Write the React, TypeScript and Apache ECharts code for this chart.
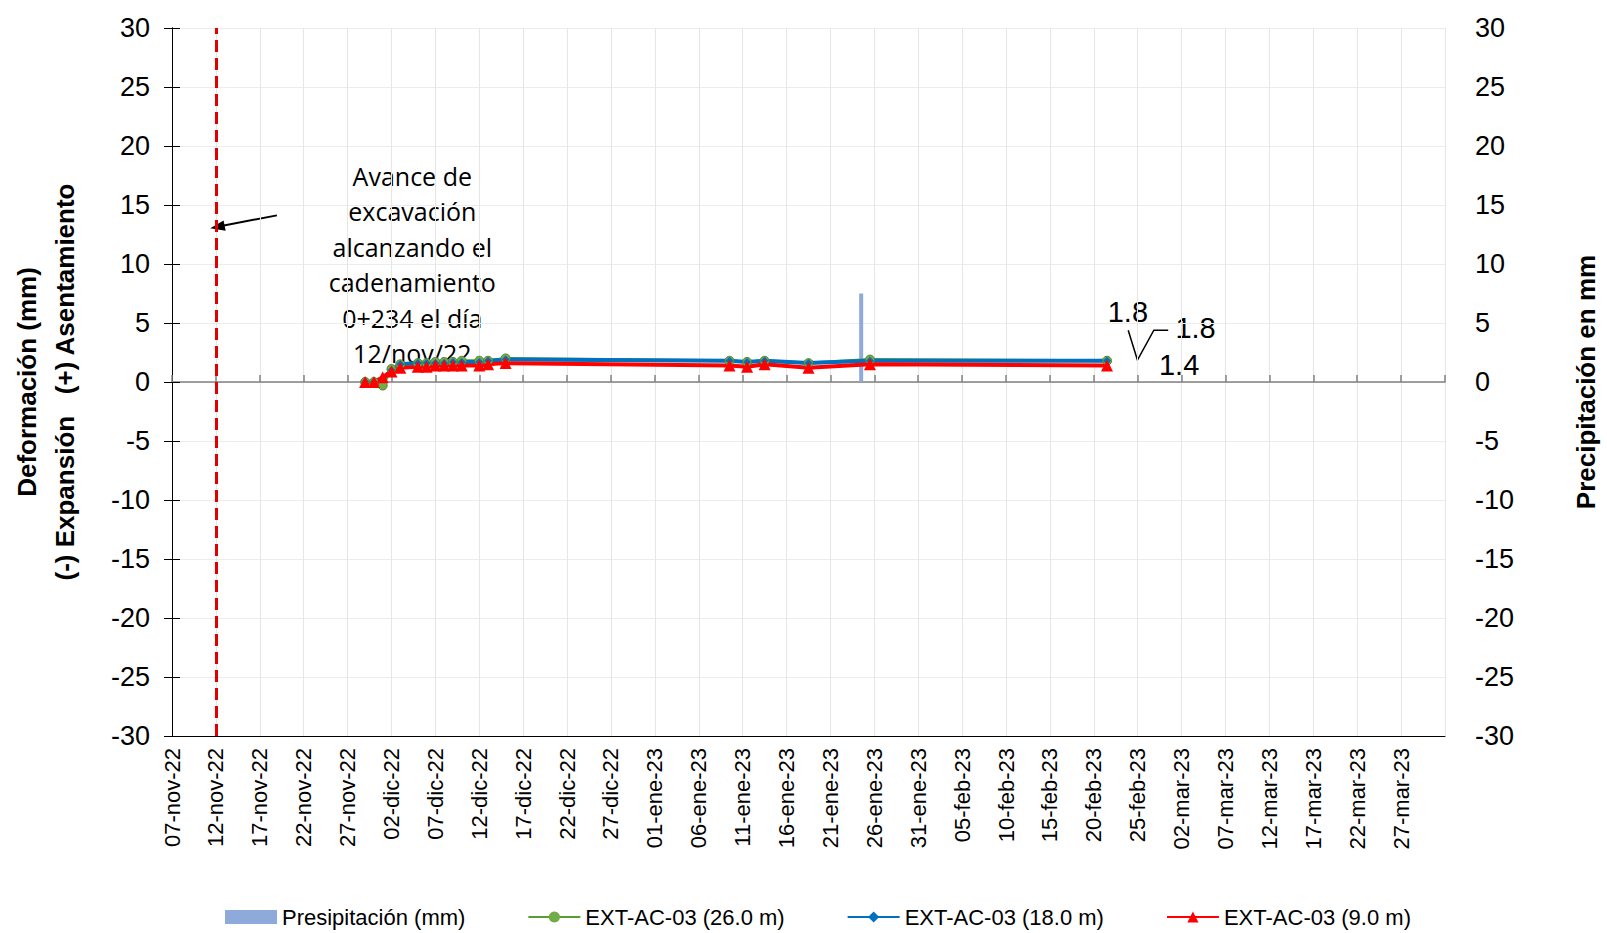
import React, { useEffect, useRef } from "react";
import * as echarts from "echarts";

const START = Date.UTC(2022, 10, 7);
const MONTHS = ["ene","feb","mar","abr","may","jun","jul","ago","sep","oct","nov","dic"];
// days since 07-nov-22
const days1 = [22, 23, 24, 25, 26, 28, 29, 30, 31, 32, 33, 35, 36, 38, 63.5, 65.5, 67.5, 72.5, 79.5, 106.5];
const green = [0, 0, -0.3, 1.1, 1.5, 1.6, 1.6, 1.7, 1.7, 1.7, 1.8, 1.8, 1.8, 2.0, 1.8, 1.7, 1.8, 1.6, 1.9, 1.8];
const blue = [0, 0, 0.3, 1.0, 1.5, 1.6, 1.6, 1.6, 1.6, 1.7, 1.7, 1.7, 1.8, 1.9, 1.8, 1.7, 1.8, 1.6, 1.8, 1.8];
const red = [0, 0, 0.4, 0.9, 1.2, 1.3, 1.3, 1.4, 1.4, 1.4, 1.4, 1.4, 1.5, 1.6, 1.4, 1.3, 1.5, 1.2, 1.5, 1.4];
const precipDays = [78.5];
const precipVals = [7.5];
const excavationDay = 5;

const FONT = "'Liberation Sans Narrow', 'Liberation Sans', Arial, sans-serif";
const K = 1 / 0.975;

function fmtDay(d: number) {
  const dt = new Date(START + d * 86400000);
  const dd = String(dt.getUTCDate()).padStart(2, "0");
  return `${dd}-${MONTHS[dt.getUTCMonth()]}-${String(dt.getUTCFullYear()).slice(2)}`;
}

export default function App() {
  const ref = useRef<HTMLDivElement>(null);
  useEffect(() => {
    document.body.style.margin = "0";
    const chart = echarts.init(ref.current!, null, { renderer: "svg" });
    const pts = (v: number[]) => days1.map((d, i) => [d, v[i]]);
    const xCommon = { type: "value", min: 0, max: 145, interval: 5 };
    const p = (x: number, y: number) => [x * K, y * K];
    chart.setOption({
      animation: false,
      backgroundColor: "#fff",
      textStyle: { fontFamily: FONT },
      grid: { left: 162, right: 120, top: 28, bottom: 197 },
      legend: {
        bottom: 0, left: 220, itemGap: 62, itemWidth: 52, itemHeight: 14,
        textStyle: { fontSize: 22, fontFamily: FONT, color: "#000" },
        data: [
          { name: "Presipitación (mm)", icon: "rect" },
          "EXT-AC-03 (26.0 m)", "EXT-AC-03 (18.0 m)", "EXT-AC-03 (9.0 m)",
        ],
      },
      xAxis: [
        {
          ...xCommon,
          axisLine: { onZero: false, lineStyle: { color: "#000" } },
          axisTick: { show: false },
          axisLabel: { rotate: 90, fontSize: 22, color: "#000", margin: 12, formatter: (v: number) => (v <= 140 ? fmtDay(v) : "") },
          splitLine: { show: true, lineStyle: { color: "#e6e6e6" } },
        },
        {
          ...xCommon,
          position: "bottom",
          axisLine: { onZero: true, lineStyle: { color: "#808080", width: 1.5 } },
          axisTick: { show: true, length: 7, inside: true, lineStyle: { color: "#808080", width: 1.5 } },
          axisLabel: { show: false },
          splitLine: { show: false },
        },
      ],
      yAxis: [
        {
          type: "value", min: -30, max: 30, interval: 5,
          axisLine: { show: true, lineStyle: { color: "#000" } },
          axisTick: { show: true, length: 8, lineStyle: { color: "#000" } },
          axisLabel: { fontSize: 27, color: "#000", margin: 22 },
          splitLine: { show: true, lineStyle: { color: "#ececec" } },
          name: "Deformación (mm)\n(-) Expansión   (+) Asentamiento",
          nameLocation: "middle", nameGap: 88, nameRotate: 90,
          nameTextStyle: { fontSize: 26, fontWeight: "bold", color: "#000", lineHeight: 38, fontFamily: "'Liberation Sans', Arial, sans-serif" },
        },
        {
          type: "value", min: -30, max: 30, interval: 5, position: "right",
          axisLine: { show: true, lineStyle: { color: "#000" } },
          axisTick: { show: true, length: 8, lineStyle: { color: "#000" } },
          axisLabel: { fontSize: 27, color: "#000", margin: 30 },
          splitLine: { show: false },
          name: "Precipitación en mm", nameLocation: "middle", nameGap: 128, nameRotate: 90,
          nameTextStyle: { fontSize: 26, fontWeight: "bold", color: "#000", fontFamily: "'Liberation Sans', Arial, sans-serif" },
        },
      ],
      series: [
        {
          name: "Presipitación (mm)", type: "bar", yAxisIndex: 1, barWidth: 4,
          itemStyle: { color: "#8eaadb" },
          data: precipDays.map((d, i) => [d, precipVals[i]]),
        },
        {
          name: "EXT-AC-03 (26.0 m)", type: "line", data: pts(green),
          symbol: "circle", symbolSize: 9, lineStyle: { color: "#5b9b33", width: 3 },
          itemStyle: { color: "#70ad47", borderColor: "#548235" },
          markLine: {
            silent: true, symbol: "none",
            lineStyle: { color: "#e00000", type: "dashed", width: 3 },
            label: { show: false },
            data: [{ xAxis: excavationDay }],
          },
        },
        {
          name: "EXT-AC-03 (18.0 m)", type: "line", data: pts(blue),
          symbol: "diamond", symbolSize: 8, lineStyle: { color: "#0070c0", width: 4 },
          itemStyle: { color: "#0070c0" },
        },
        {
          name: "EXT-AC-03 (9.0 m)", type: "line", data: pts(red),
          symbol: "triangle", symbolSize: 12, lineStyle: { color: "#ff0000", width: 4 },
          itemStyle: { color: "#ff0000" },
        },
      ],
      graphic: [
        { type: "rect", shape: { x: 270 * K, y: 155 * K, width: 266 * K, height: 200 * K }, style: { fill: "#fff" } },
        {
          type: "text", x: 402 * K, y: 154 * K,
          style: {
            text: "Avance de\nexcavación\nalcanzando el\ncadenamiento\n0+234 el día\n12/nov/22",
            fontSize: 25, lineHeight: 35.5, align: "center",
            fontFamily: "'Open Sans', sans-serif", fill: "#000",
          },
        },
        { type: "line", shape: { x1: 270 * K, y1: 210 * K, x2: 212 * K, y2: 221 * K }, style: { stroke: "#000", lineWidth: 2 } },
        { type: "polygon", shape: { points: [p(205, 222.5), p(218, 215), p(220, 225)] }, style: { fill: "#000" } },
        { type: "text", x: 1080 * K, y: 290 * K, style: { text: "1.8", fontSize: 29, fill: "#000", fontFamily: FONT } },
        { type: "text", x: 1146 * K, y: 306 * K, style: { text: "1.8", fontSize: 29, fill: "#000", fontFamily: FONT } },
        { type: "text", x: 1130 * K, y: 342 * K, style: { text: "1.4", fontSize: 29, fill: "#000", fontFamily: FONT } },
        { type: "polyline", shape: { points: [p(1100, 322), p(1109, 351), p(1125, 322), p(1139, 322)] }, style: { stroke: "#000", lineWidth: 1.5, fill: null } },
      ],
    });
    return () => chart.dispose();
  }, []);
  return <div ref={ref} style={{ width: 1607, height: 933 }} />;
}
